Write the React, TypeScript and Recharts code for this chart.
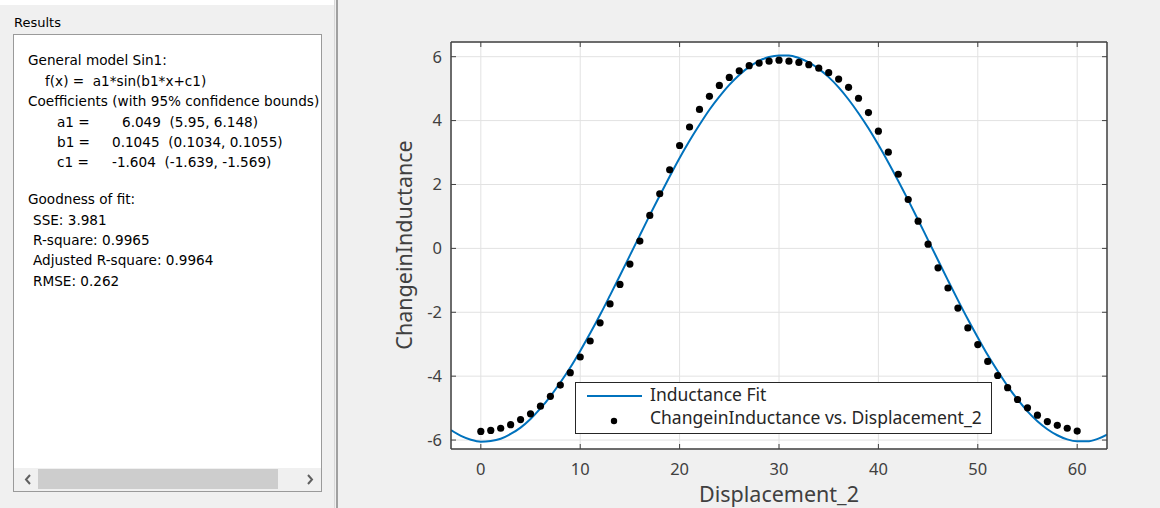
import React from 'react';
import {
  ComposedChart,
  Line,
  Scatter,
  XAxis,
  YAxis,
  CartesianGrid,
  Legend,
} from 'recharts';

// sin1 fit, sampled once per unit of displacement
const FIT_X = [
  -3, -2, -1, 0, 1, 2, 3, 4, 5, 6, 7, 8, 9, 10, 11, 12, 13, 14, 15, 16, 17, 18, 19, 20,
  21, 22, 23, 24, 25, 26, 27, 28, 29, 30, 31, 32, 33, 34, 35, 36, 37, 38, 39, 40, 41,
  42, 43, 44, 45, 46, 47, 48, 49, 50, 51, 52, 53, 54, 55, 56, 57, 58, 59, 60, 61, 62, 63,
];
const FIT_Y = [
  -5.69, -5.87, -5.99, -6.05, -6.03, -5.96, -5.81, -5.61, -5.34, -5.01, -4.63, -4.2,
  -3.73, -3.21, -2.66, -2.08, -1.47, -0.85, -0.22, 0.41, 1.04, 1.65, 2.25, 2.83, 3.37,
  3.87, 4.34, 4.75, 5.12, 5.43, 5.68, 5.87, 5.99, 6.04, 6.04, 5.96, 5.82, 5.62, 5.36,
  5.04, 4.66, 4.23, 3.76, 3.24, 2.69, 2.11, 1.51, 0.89, 0.26, -0.37, -1.0, -1.62, -2.22,
  -2.79, -3.34, -3.84, -4.31, -4.73, -5.1, -5.41, -5.66, -5.85, -5.98, -6.04, -6.04,
  -5.97, -5.83,
];

// measured change in inductance vs displacement
const DISPLACEMENT = [
  0, 1, 2, 3, 4, 5, 6, 7, 8, 9, 10, 11, 12, 13, 14, 15, 16, 17, 18, 19, 20, 21, 22, 23,
  24, 25, 26, 27, 28, 29, 30, 31, 32, 33, 34, 35, 36, 37, 38, 39, 40, 41, 42, 43, 44, 45,
  46, 47, 48, 49, 50, 51, 52, 53, 54, 55, 56, 57, 58, 59, 60,
];
const CHANGE = [
  -5.73, -5.7, -5.63, -5.52, -5.36, -5.18, -4.94, -4.63, -4.28, -3.89, -3.4, -2.9, -2.33,
  -1.74, -1.13, -0.49, 0.23, 1.03, 1.71, 2.46, 3.22, 3.8, 4.35, 4.76, 5.1, 5.35, 5.56,
  5.72, 5.8, 5.86, 5.89, 5.86, 5.82, 5.75, 5.64, 5.5, 5.3, 5.04, 4.7, 4.25, 3.67, 3.01,
  2.32, 1.53, 0.85, 0.13, -0.61, -1.24, -1.87, -2.49, -3.01, -3.54, -3.98, -4.36, -4.73,
  -4.99, -5.22, -5.42, -5.54, -5.63, -5.72,
];

const X_TICKS = [0, 10, 20, 30, 40, 50, 60];
const Y_TICKS = [-6, -4, -2, 0, 2, 4, 6];
const X_DOMAIN = [-3, 63];
const Y_DOMAIN = [-6.28, 6.46];

const FIT_NAME = 'Inductance Fit';
const DATA_NAME = 'ChangeinInductance vs. Displacement_2';

const RESULT_LINES = [
  { x: 28, y: 60, text: 'General model Sin1:' },
  { x: 45, y: 81, text: 'f(x) =  a1*sin(b1*x+c1)' },
  { x: 28, y: 101, text: 'Coefficients (with 95% confidence bounds)' },
  { x: 57, y: 122, text: 'a1 =' },
  { x: 122, y: 122, text: '6.049  (5.95, 6.148)' },
  { x: 57, y: 142, text: 'b1 =' },
  { x: 112, y: 142, text: '0.1045  (0.1034, 0.1055)' },
  { x: 57, y: 162, text: 'c1 =' },
  { x: 112, y: 162, text: '-1.604  (-1.639, -1.569)' },
  { x: 28, y: 199, text: 'Goodness of fit:' },
  { x: 33, y: 220, text: 'SSE: 3.981' },
  { x: 33, y: 240, text: 'R-square: 0.9965' },
  { x: 33, y: 260, text: 'Adjusted R-square: 0.9964' },
  { x: 33, y: 281, text: 'RMSE: 0.262' },
];

const fitData = FIT_X.map((x, i) => ({ x, fit: FIT_Y[i] }));
const pointData = DISPLACEMENT.map((x, i) => ({ x, y: CHANGE[i] }));

const BLUE = '#0072bd';
const AXIS = '#404040';
const PLOT_FONT = '"Noto Sans", "Open Sans", sans-serif';
const UI_FONT = 'Tahoma, "DejaVu Sans", sans-serif';

const Dot = (props: any) => <circle cx={props.cx} cy={props.cy} r={3.6} fill="#000" />;

const FitLegend = () => (
  <div
    style={{
      position: 'relative',
      width: 417,
      height: 52,
      boxSizing: 'border-box',
      border: '1px solid #262626',
      background: '#fff',
      fontFamily: PLOT_FONT,
      fontSize: 17.5,
      color: '#262626',
      lineHeight: '20px',
      whiteSpace: 'nowrap',
    }}
  >
    <svg width={417} height={52} style={{ position: 'absolute', left: -1, top: -1 }}>
      <line x1={12} x2={67} y1={14} y2={14} stroke={BLUE} strokeWidth={2} />
      <circle cx={39} cy={39} r={3.2} fill="#000" />
    </svg>
    <div style={{ position: 'absolute', left: 74, top: 1 }}>{FIT_NAME}</div>
    <div style={{ position: 'absolute', left: 74, top: 24 }}>{DATA_NAME}</div>
  </div>
);

const ResultsPanel = () => (
  <div style={{ position: 'absolute', left: 0, top: 0, width: 338, height: 508, fontFamily: UI_FONT }}>
    <div style={{ position: 'absolute', left: 0, top: 0, width: 334, height: 5, background: '#fff' }} />
    <div style={{ position: 'absolute', left: 14, top: 15, fontSize: 13, color: '#000' }}>Results</div>
    <div
      style={{
        position: 'absolute',
        left: 13,
        top: 34,
        width: 309,
        height: 458,
        boxSizing: 'border-box',
        border: '1px solid #9a9a9a',
        background: '#fff',
        overflow: 'hidden',
      }}
    >
      {RESULT_LINES.map((l, i) => (
        <div
          key={i}
          style={{
            position: 'absolute',
            left: l.x - 14,
            top: l.y - 35 - 9,
            fontSize: 13.6,
            lineHeight: '18px',
            whiteSpace: 'pre',
            color: '#000',
          }}
        >
          {l.text}
        </div>
      ))}
      {/* horizontal scrollbar */}
      <div
        style={{
          position: 'absolute',
          left: 0,
          top: 433,
          width: 307,
          height: 23,
          background: '#f0f0f0',
        }}
      >
        <div style={{ position: 'absolute', left: 24, top: 1, width: 240, height: 20, background: '#cdcdcd' }} />
        <svg width={307} height={23} style={{ position: 'absolute', left: 0, top: 0 }}>
          <polyline points="16,7 12,11.5 16,16" fill="none" stroke="#606060" strokeWidth={2} />
          <polyline points="294,7 298,11.5 294,16" fill="none" stroke="#606060" strokeWidth={2} />
        </svg>
      </div>
    </div>
    <div style={{ position: 'absolute', left: 334, top: 0, width: 1, height: 508, background: '#d8d8d8' }} />
    <div style={{ position: 'absolute', left: 336, top: 0, width: 2, height: 508, background: '#a0a0a0' }} />
  </div>
);

export default function App() {
  return (
    <div
      style={{
        position: 'absolute',
        left: 0,
        top: 0,
        width: 1160,
        height: 508,
        background: '#f0f0f0',
        overflow: 'hidden',
      }}
    >
      <ResultsPanel />
      <div style={{ position: 'absolute', left: 340, top: 0, width: 820, height: 508 }}>
        <ComposedChart width={820} height={508} margin={{ top: 41, right: 52, bottom: 0, left: 0 }}>
          <CartesianGrid fill="#fff" stroke="#e2e2e2" strokeWidth={1} />
          <XAxis
            dataKey="x"
            type="number"
            domain={X_DOMAIN}
            ticks={X_TICKS}
            allowDataOverflow
            height={59}
            tickSize={-5}
            tickMargin={19}
            axisLine={{ stroke: AXIS, strokeWidth: 1.5 }}
            tickLine={{ stroke: AXIS }}
            tick={{ fill: AXIS, fontSize: 16.5, fontFamily: PLOT_FONT }}
          />
          {/* box edges: top and right axes share the same scales */}
          <XAxis
            xAxisId="top"
            orientation="top"
            dataKey="x"
            type="number"
            domain={X_DOMAIN}
            ticks={X_TICKS}
            allowDataOverflow
            height={1}
            tickSize={-5}
            axisLine={{ stroke: AXIS, strokeWidth: 1.5 }}
            tickLine={{ stroke: AXIS }}
            tickFormatter={() => ''}
          />
          <YAxis
            type="number"
            domain={Y_DOMAIN}
            ticks={Y_TICKS}
            allowDataOverflow
            width={111}
            tickSize={-5}
            tickMargin={14}
            axisLine={{ stroke: AXIS, strokeWidth: 1.5 }}
            tickLine={{ stroke: AXIS }}
            tick={{ fill: AXIS, fontSize: 16.5, fontFamily: PLOT_FONT }}
          />
          <YAxis
            yAxisId="right"
            orientation="right"
            type="number"
            domain={Y_DOMAIN}
            ticks={Y_TICKS}
            allowDataOverflow
            width={1}
            tickSize={-5}
            axisLine={{ stroke: AXIS, strokeWidth: 1.5 }}
            tickLine={{ stroke: AXIS }}
            tickFormatter={() => ''}
          />
          <Line
            data={fitData}
            xAxisId="top"
            yAxisId="right"
            dataKey="fit"
            name={FIT_NAME}
            type="monotone"
            stroke={BLUE}
            strokeWidth={2}
            dot={false}
            isAnimationActive={false}
          />
          <Scatter
            data={pointData}
            dataKey="y"
            name={DATA_NAME}
            fill="#000"
            shape={Dot}
            isAnimationActive={false}
          />
          <Legend
            layout="horizontal"
            align="center"
            verticalAlign="middle"
            content={() => <FitLegend />}
            wrapperStyle={{ left: 235, top: 382, width: 417, height: 52 }}
          />
        </ComposedChart>
        <div
          style={{
            position: 'absolute',
            left: 63,
            top: 245,
            transform: 'translate(-50%, -50%) rotate(-90deg)',
            fontFamily: PLOT_FONT,
            fontSize: 21.5,
            color: AXIS,
            whiteSpace: 'nowrap',
          }}
        >
          ChangeinInductance
        </div>
        <div
          style={{
            position: 'absolute',
            left: 439,
            top: 482,
            transform: 'translateX(-50%)',
            fontFamily: PLOT_FONT,
            fontSize: 21.5,
            lineHeight: '24px',
            color: AXIS,
            whiteSpace: 'nowrap',
          }}
        >
          Displacement_2
        </div>
      </div>
    </div>
  );
}
